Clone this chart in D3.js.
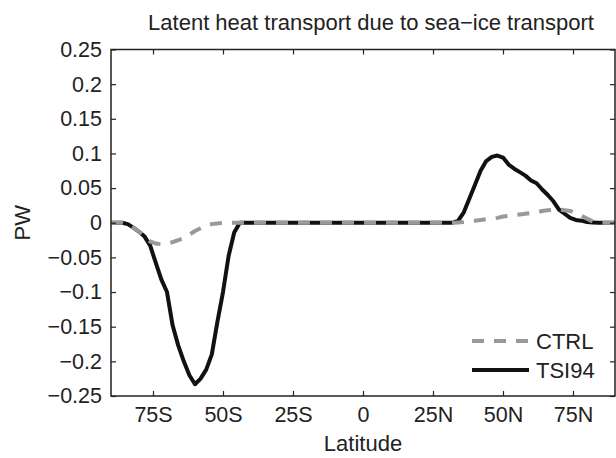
<!DOCTYPE html>
<html>
<head>
<meta charset="utf-8">
<script src="https://cdn.jsdelivr.net/npm/d3@7"></script>
<style>
  body { margin: 0; background: #fff; }
  text { font-family: "Liberation Sans", Arial, sans-serif; fill: #222; }
</style>
</head>
<body>
<div id="chart"></div>
<script>
// latitude grid (deg, negative = south)
const lats = [-90, -88, -86, -84, -82, -80, -78, -76, -74, -72, -70, -68, -66, -64, -62, -60,
  -58, -56, -54, -52, -50, -48, -46, -44, -42, -40, -20, 0, 20,
  30, 32, 34, 36, 38, 40, 42, 44, 46, 48, 50, 52, 54, 56, 58, 60,
  62, 64, 66, 68, 70, 72, 74, 76, 78, 80, 82, 84, 86, 88, 90]

const ctrl = [0, 0, 0, -0.002, -0.007, -0.013, -0.020, -0.027, -0.030, -0.031, -0.030, -0.028, -0.025, -0.022, -0.017, -0.012,
  -0.008, -0.004, -0.002, -0.001, 0, 0, 0, 0, 0, 0, 0, 0, 0,
  0, 0, 0.0005, 0.001, 0.002, 0.003, 0.004, 0.005, 0.006, 0.007, 0.009, 0.010, 0.011, 0.012, 0.013, 0.014,
  0.015, 0.017, 0.018, 0.019, 0.019, 0.018, 0.017, 0.014, 0.010, 0.006, 0.002, 0, 0, 0, 0]

const tsi94 = [0, 0, 0, -0.002, -0.007, -0.013, -0.020, -0.033, -0.058, -0.082, -0.100, -0.148, -0.177, -0.200, -0.220, -0.233,
  -0.225, -0.212, -0.190, -0.143, -0.100, -0.048, -0.014, 0, 0, 0, 0, 0, 0,
  0, 0, 0.003, 0.015, 0.035, 0.055, 0.075, 0.089, 0.095, 0.097, 0.094, 0.084, 0.078, 0.073, 0.068, 0.061,
  0.057, 0.048, 0.040, 0.031, 0.019, 0.013, 0.007, 0.004, 0.003, 0.001, 0.0005, 0, 0, 0, 0]

const xTicks = [-75, -50, -25, 0, 25, 50, 75]
const xTickLabels = ["75S", "50S", "25S", "0", "25N", "50N", "75N"]
const yTicks = [-0.25, -0.2, -0.15, -0.1, -0.05, 0, 0.05, 0.1, 0.15, 0.2, 0.25]

var width = 616
var height = 458
var margin = { top: 49.5, right: 1, bottom: 62, left: 111 }
var fontSize = 22
var tickFont = 21.5

var svg = d3.select("#chart")
    .append("svg")
    .attr("width", width)
    .attr("height", height)

var x = d3.scaleLinear()
    .domain([-90, 90])
    .range([margin.left, width - margin.right])
var y = d3.scaleLinear()
    .domain([-0.25, 0.25])
    .range([height - margin.bottom, margin.top])

function fmt(v) {
    // matlab style labels, true minus sign
    let s = String(+v.toFixed(2))
    return s.replace("-", "\u2212")
}

// lines
var line = d3.line()
    .x((d, i) => x(lats[i]))
    .y(d => y(d))

svg.append("path")
    .datum(tsi94)
    .attr("d", line)
    .style("fill", "none")
    .style("stroke", "#111")
    .style("stroke-width", "4px")
    .style("stroke-linejoin", "round")

svg.append("path")
    .datum(ctrl)
    .attr("d", line)
    .style("fill", "none")
    .style("stroke", "#999")
    .style("stroke-width", "4px")
    .style("stroke-dasharray", "12,10")

// axes, ticks point inwards on all four sides
var tickLen = 5
svg.append("g")
    .attr("transform", "translate(0," + y.range()[0] + ")")
    .call(d3.axisBottom(x).tickValues(xTicks).tickSize(-tickLen).tickPadding(11)
        .tickFormat((d, i) => xTickLabels[i]))
    .call(g => g.select(".domain").remove())
    .style("font-size", tickFont + "px")
svg.append("g")
    .attr("transform", "translate(0," + y.range()[1] + ")")
    .call(d3.axisTop(x).tickValues(xTicks).tickSize(-tickLen).tickFormat(""))
    .call(g => g.select(".domain").remove())
svg.append("g")
    .attr("transform", "translate(" + x.range()[0] + ",0)")
    .call(d3.axisLeft(y).tickValues(yTicks).tickSize(-tickLen).tickPadding(9)
        .tickFormat(fmt))
    .call(g => g.select(".domain").remove())
    .style("font-size", tickFont + "px")
svg.append("g")
    .attr("transform", "translate(" + x.range()[1] + ",0)")
    .call(d3.axisRight(y).tickValues(yTicks).tickSize(-tickLen).tickFormat(""))
    .call(g => g.select(".domain").remove())

svg.selectAll(".tick line").style("stroke", "#222").style("stroke-width", "1.2px")
svg.selectAll(".tick text").style("fill", "#222").style("font-family", "Liberation Sans, Arial, sans-serif")

// frame
svg.append("rect")
    .attr("x", x.range()[0])
    .attr("y", y.range()[1])
    .attr("width", x.range()[1] - x.range()[0])
    .attr("height", y.range()[0] - y.range()[1])
    .style("fill", "none")
    .style("stroke", "#222")
    .style("stroke-width", "1.5px")

// titles
svg.append("text")
    .attr("x", 371)
    .attr("y", 30)
    .attr("text-anchor", "middle")
    .style("font-size", fontSize + "px")
    .text("Latent heat transport due to sea\u2212ice transport")
svg.append("text")
    .attr("x", x(0))
    .attr("y", 451)
    .attr("text-anchor", "middle")
    .style("font-size", fontSize + "px")
    .text("Latitude")
svg.append("text")
    .attr("transform", "translate(30," + y(0) + ") rotate(-90)")
    .attr("text-anchor", "middle")
    .style("font-size", fontSize + "px")
    .text("PW")

// legend
const legendItems = [
    { name: "CTRL", color: "#999", dash: "12,10", width: 4 },
    { name: "TSI94", color: "#111", dash: null, width: 4 }
]
var legend = svg.append("g")
    .attr("transform", "translate(472,341)")
legend.selectAll("g")
    .data(legendItems).enter()
    .append("g")
    .attr("transform", (d, i) => "translate(0," + i * 29 + ")")
    .each(function (d) {
        var g = d3.select(this)
        g.append("line")
            .attr("x1", 0).attr("x2", 57)
            .style("stroke", d.color)
            .style("stroke-width", d.width + "px")
            .style("stroke-dasharray", d.dash)
        g.append("text")
            .attr("x", 64)
            .attr("dy", "0.35em")
            .style("font-size", fontSize + "px")
            .text(d.name)
    })
</script>
</body>
</html>
